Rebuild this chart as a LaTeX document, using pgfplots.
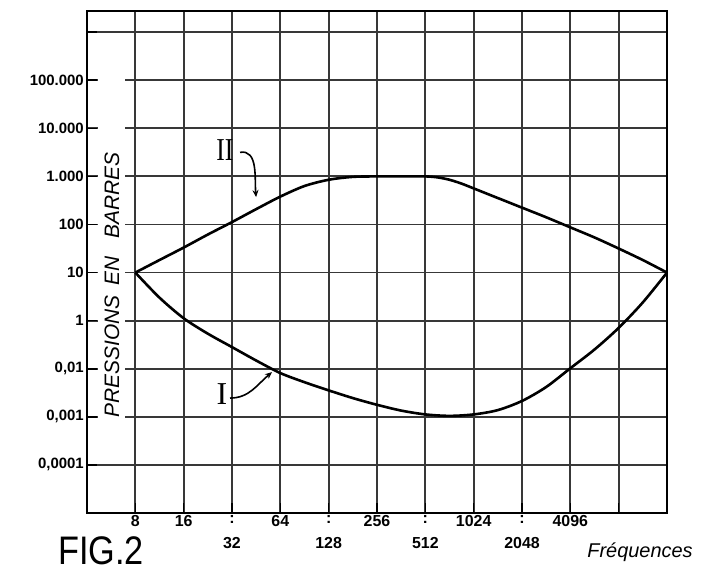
\documentclass[border=0pt]{standalone}
\usepackage{graphicx}
\usepackage{pgfplots}
\pgfplotsset{compat=1.18}
\usepackage{fontspec}
\setmainfont{Liberation Sans}
\newfontfamily\seriffont{Liberation Serif}
\usetikzlibrary{arrows.meta}

\begin{document}
\begin{tikzpicture}[x=1bp,y=1bp]
\useasboundingbox (0,0) rectangle (707,575);
\begin{axis}[
  at={(87bp,62bp)}, anchor=south west,
  scale only axis, width=580bp, height=502bp,
  xmode=log, log basis x=2,
  xmin=4, xmax=16384, ymin=0, ymax=10.44,
  xtick={8,16,32,64,128,256,512,1024,2048,4096,8192,16384},
  xticklabels={8,16,{:\\32},64,{:\\128},256,{:\\512},1024,{:\\2048},4096,{},{}},
  xticklabel style={align=center, font=\bfseries\fontsize{16}{25}\selectfont, inner sep=2bp},
  ytick={1,2,3,4,5,6,7,8,9,10},
  yticklabels={{0,0001},{0,001},{0,01},{1},{10},{100},{1.000},{10.000},{100.000},{}},
  yticklabel style={font=\bfseries\fontsize{15}{15}\selectfont, inner sep=3bp},
  /pgf/number format/assume math mode=true,
  xtick pos=bottom, ytick pos=left,
  tick align=inside, major tick length=10bp,
  tick style={black, line width=1.6bp},
  grid=major,
  major grid style={black!78, line width=1.8bp},
  axis line style={black, line width=2.4bp},
]
\fill[white] (rel axis cs:0.019,0.1245) rectangle (rel axis cs:0.0655,0.9195);

% Curve II (upper)
\addplot[black, line width=2.6bp, smooth, tension=0.5] coordinates {
  (8,5.0) (11.3,5.26) (16,5.52) (22.6,5.79) (32,6.05) (45.3,6.32) (64,6.58) (90.5,6.80)
  (128,6.93) (181,6.99) (256,7.0) (362,7.0) (512,7.0) (609,6.98) (724,6.93) (861,6.85)
  (1024,6.75) (1448,6.55) (2048,6.35) (2896,6.15) (4096,5.94) (5793,5.73) (8192,5.50)
  (11585,5.26) (16384,5.0)
};
% Curve I (lower)
\addplot[black, line width=2.6bp, smooth, tension=0.5] coordinates {
  (8,5.0) (11.3,4.48) (16,4.05) (22.6,3.73) (32,3.45) (45.3,3.17) (64,2.91) (90.5,2.72)
  (128,2.55) (181,2.39) (256,2.25) (362,2.13) (512,2.05) (724,2.02) (1024,2.05) (1448,2.14)
  (2048,2.33) (2896,2.62) (4096,3.01) (5793,3.40) (8192,3.85) (11585,4.38) (16384,5.0)
};

\node[font=\seriffont\fontsize{32}{32}\selectfont] at (axis cs:28.9,7.55) {\scalebox{0.8}[1]{II}};
\node[font=\seriffont\fontsize{32}{32}\selectfont] at (axis cs:27.7,2.47) {I};
\draw[black, line width=1.6bp, -{Stealth[length=7bp,width=6bp]}]
  (axis cs:35.9,7.50) to[out=10,in=95] (axis cs:45.2,6.57);
\draw[black, line width=1.6bp, -{Stealth[length=7bp,width=6bp]}]
  (axis cs:31.1,2.39) to[out=0,in=-140] (axis cs:56.8,2.93);

\node[rotate=90, font=\itshape\fontsize{21}{21}\selectfont] at (axis cs:5.72,4.74)
  {PRESSIONS\hspace{10bp}EN\hspace{18bp}BARRES};
\end{axis}
\node[font=\fontsize{40}{40}\selectfont] at (101,24) {\scalebox{0.86}[1]{FIG.2}};
\node[font=\itshape\fontsize{20}{20}\selectfont] at (640,23) {Fréquences};
\end{tikzpicture}
\end{document}
